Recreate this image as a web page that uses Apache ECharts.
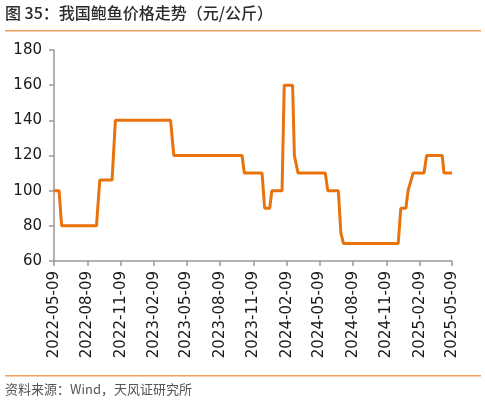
<!DOCTYPE html>
<html>
<head>
<meta charset="utf-8">
<script src="https://cdn.jsdelivr.net/npm/echarts@6/dist/echarts.min.js"></script>
<style>
  html, body { margin: 0; padding: 0; background: #fff; }
  #chart { width: 485px; height: 404px; }
</style>
</head>
<body>
<div id="chart"></div>
<script>
// 价格拐点
const dates = [
  '2022-05-09', '2022-05-23', '2022-05-30', '2022-09-03', '2022-09-12',
  '2022-10-16', '2022-10-25', '2023-03-26', '2023-04-04', '2023-10-09',
  '2023-10-15', '2023-12-03', '2023-12-10', '2023-12-24', '2023-12-30',
  '2024-01-27', '2024-02-02', '2024-02-25', '2024-03-01', '2024-03-11',
  '2024-05-25', '2024-06-01', '2024-06-30', '2024-07-07', '2024-07-14',
  '2024-12-12', '2024-12-19', '2025-01-02', '2025-01-08', '2025-01-13',
  '2025-01-22', '2025-02-21', '2025-02-28', '2025-04-12', '2025-04-17',
  '2025-05-09'
];
const prices = [
  100, 100, 80, 80, 106,
  106, 140, 140, 120, 120,
  110, 110, 90, 90, 100,
  100, 160, 160, 120, 110,
  110, 100, 100, 76, 70,
  70, 90, 90, 100, 100,
  110, 110, 120, 120, 110,
  110
];
const tickDates = [
  '2022-05-09', '2022-08-09', '2022-11-09', '2023-02-09', '2023-05-09',
  '2023-08-09', '2023-11-09', '2024-02-09', '2024-05-09', '2024-08-09',
  '2024-11-09', '2025-02-09', '2025-05-09'
];
const yTicks = [60, 80, 100, 120, 140, 160, 180];

const chart = echarts.init(document.getElementById('chart'));

// 日期换成天数（UTC，避免时区问题）
const day = s => Date.parse(s + 'T00:00:00Z') / 86400000;
const pad = n => (n < 10 ? '0' : '') + n;
const fmt = v => {
  const d = new Date(Math.round(v) * 86400000);
  return d.getUTCFullYear() + '-' + pad(d.getUTCMonth() + 1) + '-' + pad(d.getUTCDate());
};
const tickDays = tickDates.map(day);

const options = {
  animation: false,
  grid: { left: 54, right: 33, top: 50, bottom: 143 },
  xAxis: {
    type: 'value',
    min: tickDays[0],
    max: tickDays[tickDays.length - 1],
    axisLine: { lineStyle: { color: '#999', width: 1.5 } },
    axisTick: { show: true, length: 5, customValues: tickDays, lineStyle: { color: '#999', width: 1.5 } },
    splitLine: { show: false },
    axisLabel: {
      customValues: tickDays,
      rotate: 90,
      margin: 10,
      fontSize: 15,
      color: '#1a1a1a',
      fontFamily: '"DejaVu Sans", sans-serif',
      formatter: v => fmt(v)
    }
  },
  yAxis: {
    type: 'value',
    min: yTicks[0],
    max: yTicks[yTicks.length - 1],
    interval: 20,
    axisLine: { show: true, lineStyle: { color: '#999', width: 1.5 } },
    axisTick: { show: true, length: 5, lineStyle: { color: '#999', width: 1.5 } },
    splitLine: { show: false },
    axisLabel: { fontSize: 15, color: '#1a1a1a', margin: 12, fontFamily: '"DejaVu Sans", sans-serif' }
  },
  series: [
    {
      type: 'line',
      data: dates.map((d, i) => [day(d), prices[i]]),
      showSymbol: false,
      lineStyle: { color: '#E8720C', width: 3 },
      itemStyle: { color: '#E8720C' }
    }
  ],
  graphic: [
    {
      type: 'text', left: 5, top: 5,
      style: { text: '图 35：我国鲍鱼价格走势（元/公斤）', fontSize: 16, fill: '#2b2b2b',
        fontWeight: 500, fontFamily: '"Noto Sans CJK SC", sans-serif' }
    },
    { type: 'rect', shape: { x: 5, y: 30, width: 476, height: 1.5 }, style: { fill: '#F0A05A' } },
    { type: 'rect', shape: { x: 5, y: 375, width: 476, height: 1.5 }, style: { fill: '#F0A05A' } },
    {
      type: 'text', left: 5, top: 383,
      style: { text: '资料来源：Wind，天风证研究所', fontSize: 13, fill: '#555',
        fontFamily: '"Noto Sans CJK SC", sans-serif' }
    }
  ]
};

chart.setOption(options);
</script>
</body>
</html>
